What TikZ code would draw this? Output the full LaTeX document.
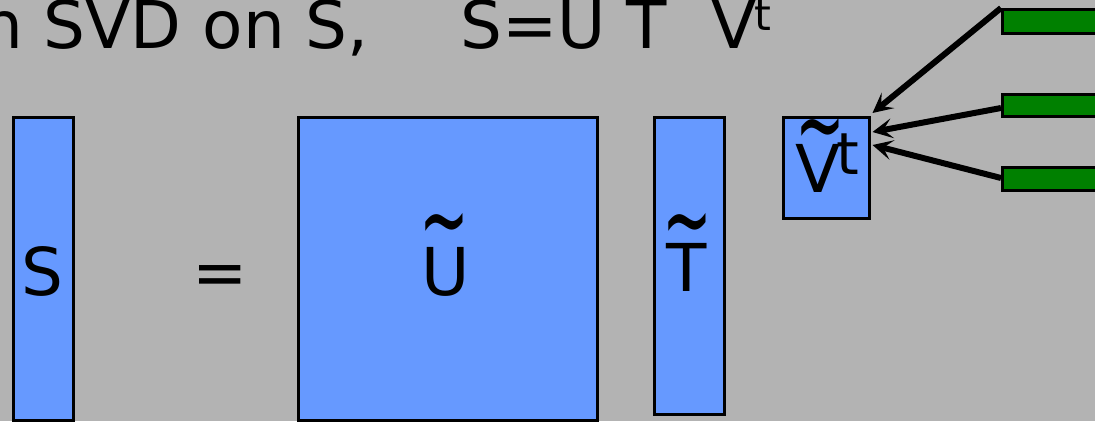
\documentclass[tikz,border=0pt]{standalone}
\usepackage{fontspec}
\usepackage{graphicx}
\setmainfont{DejaVu Sans}
\usetikzlibrary{arrows.meta}
\definecolor{bg}{RGB}{179,179,179}
\definecolor{matblue}{RGB}{102,153,255}
\definecolor{bargreen}{RGB}{0,128,0}
\newcommand{\bigtilde}{\scalebox{0.9}[1.6]{\textasciitilde}}
\begin{document}
\begin{tikzpicture}[x=1pt,y=-1pt,
  matbox/.style={draw=black,line width=2.5pt,fill=matblue,anchor=north west,inner sep=0pt},
  greenbar/.style={draw=black,line width=2.5pt,fill=bargreen,anchor=north west,inner sep=0pt,minimum width=130pt,minimum height=24pt},
  biglab/.style={inner sep=0pt,anchor=base,font=\fontsize{66}{66}\selectfont},
  titlelab/.style={inner sep=0pt,font=\fontsize{66}{66}\selectfont},
  tildemark/.style={inner sep=0pt,anchor=base,font=\fontsize{66}{66}\selectfont},
  feed/.style={line width=6pt,-{Stealth[length=20pt,width=20pt,inset=9pt]}}]
\useasboundingbox (0,0) rectangle (1095,421);
\fill[bg] (0,0) rectangle (1095,421);
\clip (0,0) rectangle (1095,421);

% heading
\node[titlelab,anchor=base east] (head) at (369,48) {n SVD on S,};
\node[titlelab,anchor=base west] (eq) at (460,48) {S=U T};
\node[titlelab,anchor=base west] (headV) at (711,48) {V};
\node[inner sep=0pt,anchor=base west,font=\fontsize{43}{43}\selectfont] (headt) at (754,30) {t};

% matrices
\node[matbox,minimum width=60pt,minimum height=303pt] (S) at (12,116) {};
\node[biglab] (Slab) at (42,295) {S};
\node[biglab] (eqsign) at (220,295) {=};

\node[matbox,minimum width=299pt,minimum height=303pt] (U) at (297,116) {};
\node[biglab] (Ulab) at (446,295) {U};
\node[tildemark] (Util) at (444,255) {\bigtilde};

\node[matbox,minimum width=70pt,minimum height=297pt] (T) at (653,116) {};
\node[biglab] (Tlab) at (687,291) {T};
\node[tildemark] (Ttil) at (687,255) {\bigtilde};

\node[matbox,minimum width=86pt,minimum height=101pt] (V) at (782,116) {};
\node[biglab] (Vlab) at (818,192) {V};
\node[inner sep=0pt,anchor=base west,font=\fontsize{58}{58}\selectfont] (Vt) at (836,174) {t};
\node[tildemark] (Vtil) at (820,160) {\bigtilde};

% green bars
\node[greenbar] (g1) at (1001,8) {};
\node[greenbar,minimum height=22pt] (g2) at (1001,93) {};
\node[greenbar,minimum height=23pt] (g3) at (1001,166) {};

% arrows into V
\draw[feed] (g1.north west) -- ([xshift=2pt,yshift=3pt]V.north east);
\draw[feed] ([yshift=-15pt]g2.north west) -- ([xshift=2pt,yshift=-16pt]V.north east);
\draw[feed] ([yshift=-12pt]g3.north west) -- ([xshift=2pt,yshift=-29pt]V.north east);
\end{tikzpicture}
\end{document}
